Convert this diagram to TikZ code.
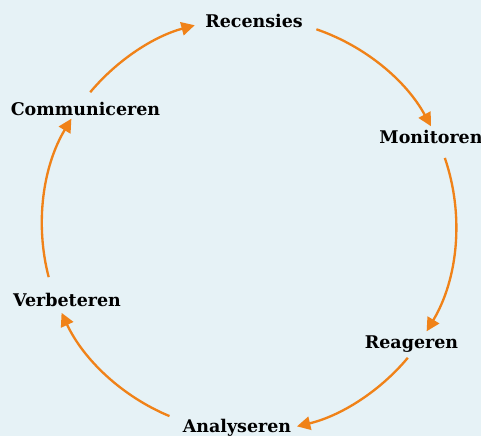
\documentclass[tikz,border=0pt]{standalone}
\usepackage{fontspec}
\setmainfont{DejaVu Serif}
\usetikzlibrary{arrows.meta}
\definecolor{bgblue}{RGB}{230,242,246}
\definecolor{arrorange}{RGB}{240,130,24}
\tikzset{
  lbl/.style={anchor=base, font=\fontsize{13.1}{15}\selectfont\bfseries, text=black, inner sep=0pt},
  arr/.style={draw=arrorange, line width=1.75pt, -{Triangle[length=10pt,width=10pt]}, arrorange}
}
\begin{document}
\begin{tikzpicture}[x=0.75pt,y=0.75pt]
\fill[bgblue] (0,0) rectangle (481,-436);
\useasboundingbox (0,0) rectangle (481,-436);
\coordinate (c) at (249,-225);
\node[lbl] (rec) at (254,-27) {Recensies};
\node[lbl] (mon) at (431,-143) {Monitoren};
\node[lbl] (rea) at (411.5,-348) {Reageren};
\node[lbl] (ana) at (237,-432) {Analyseren};
\node[lbl] (ver) at (67,-306.5) {Verbeteren};
\node[lbl] (com) at (85.5,-115) {Communiceren};
\path (c) ++(140.1:207) coordinate (a1);
\path (c) ++(71.0:207) coordinate (a2);
\path (c) ++(18.9:207) coordinate (a3);
\path (c) ++(-39.9:207) coordinate (a4);
\path (c) ++(-112.6:207) coordinate (a5);
\path (c) ++(-165.4:207) coordinate (a6);
\draw[arr] (a1) arc[start angle=140.1, end angle=105.2, radius=207];
\draw[arr] (a2) arc[start angle=71.0, end angle=28.5, radius=207];
\draw[arr] (a3) arc[start angle=18.9, end angle=-30.9, radius=207];
\draw[arr] (a4) arc[start angle=-39.9, end angle=-76.6, radius=207];
\draw[arr] (a5) arc[start angle=-112.6, end angle=-154.9, radius=207];
\draw[arr] (a6) arc[start angle=-165.4, end angle=-210.9, radius=207];
\end{tikzpicture}
\end{document}
